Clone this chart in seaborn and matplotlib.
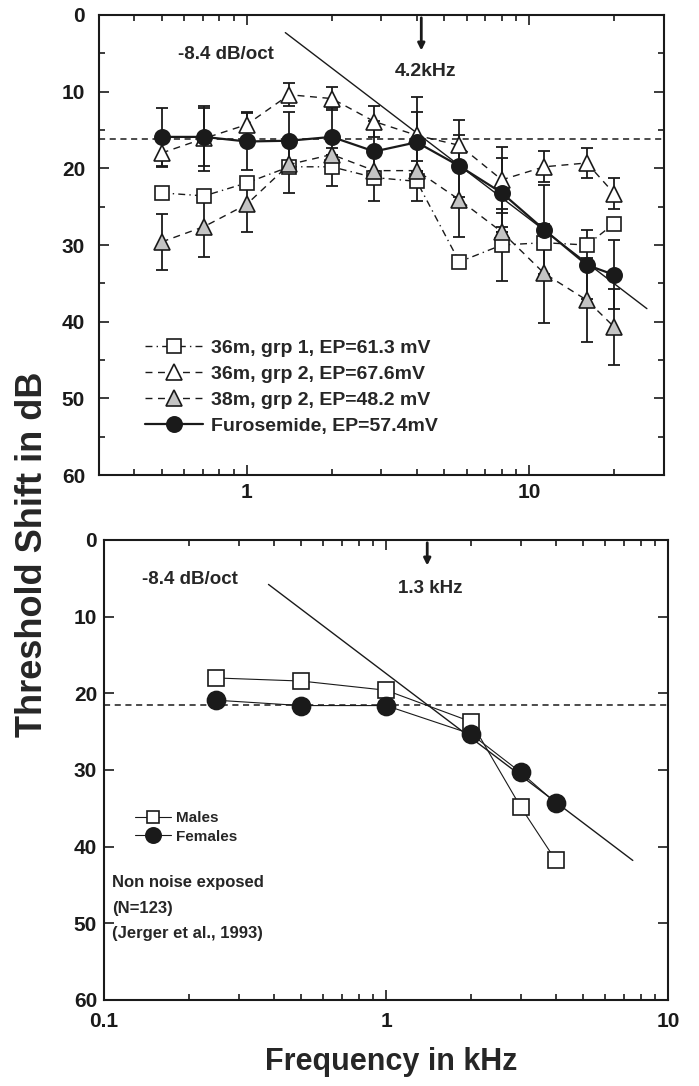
import matplotlib
matplotlib.use("Agg")
import matplotlib.pyplot as plt
from matplotlib.lines import Line2D
from matplotlib.ticker import LogLocator, MultipleLocator, NullFormatter, FixedLocator, FixedFormatter
import seaborn as sns

# ---- top panel data (threshold shift, dB) ----
freq_top = [0.5, 0.707, 1, 1.414, 2, 2.83, 4, 5.66, 8, 11.3, 16, 20]
grp1_36m = [23.2, 23.6, 21.9, 19.8, 19.8, 21.2, 21.7, 32.2, 30.0, 29.7, 30.0, 27.2]
grp1_36m_err = [0, 0, 0, 3.4, 2.5, 3.0, 2.6, 0, 4.7, 0, 0, 0]
grp2_36m = [18.0, 16.1, 14.3, 10.4, 10.9, 13.9, 15.7, 17.0, 21.5, 19.8, 19.3, 23.3]
grp2_36m_err = [1.8, 4.2, 1.7, 1.5, 1.5, 2.0, 5.0, 3.3, 4.3, 2.0, 2.0, 2.0]
grp2_38m = [29.6, 27.6, 24.7, 19.5, 18.2, 20.3, 20.3, 24.1, 28.3, 33.7, 37.2, 40.7]
grp2_38m_err = [3.6, 3.9, 3.6, 0, 0, 0, 0, 4.8, 0, 6.5, 5.5, 5.0]
furosemide = [15.9, 15.9, 16.5, 16.4, 15.9, 17.8, 16.6, 19.7, 23.2, 28.0, 32.6, 33.9]
furosemide_err = [3.8, 3.8, 3.7, 3.8, 3.8, 4.0, 4.0, 4.0, 4.5, 5.8, 4.5, 4.5]
top_ref_level = 16.2
top_slope_f = [1.37, 26.1]
top_slope_db = [2.3, 38.3]
top_labels = ["36m, grp 1, EP=61.3 mV", "36m, grp 2, EP=67.6mV",
              "38m, grp 2, EP=48.2 mV", "Furosemide, EP=57.4mV"]

# ---- bottom panel data ----
freq_bot = [0.25, 0.5, 1, 2, 3, 4]
males = [18.0, 18.4, 19.6, 23.7, 34.8, 41.8]
females = [20.9, 21.6, 21.6, 25.3, 30.3, 34.3]
bot_ref_level = 21.5
bot_slope_f = [0.383, 7.5]
bot_slope_db = [5.8, 41.8]

sns.set_theme(style="ticks")
plt.rcParams["font.family"] = ["Liberation Sans", "DejaVu Sans"]
plt.rcParams["font.weight"] = "bold"

fig = plt.figure(figsize=(6.99, 10.86), dpi=100)
ax1 = fig.add_axes([0.1416, 0.5626, 0.8083, 0.4236])
ax2 = fig.add_axes([0.1488, 0.0792, 0.8069, 0.4236])

gray = "#c4c4c4"
ms_kw = dict(markeredgecolor="k", markeredgewidth=1.2)

# top panel
series = [
    (grp1_36m, grp1_36m_err, "s", "white", (0, (5, 3, 1, 3)), 1.0, 10),
    (grp2_36m, grp2_36m_err, "^", "white", (0, (5, 4)), 1.0, 12),
    (grp2_38m, grp2_38m_err, "^", gray, (0, (5, 4)), 1.0, 12),
    (furosemide, furosemide_err, "o", "k", "-", 1.6, 11),
]
handles = []
for vals, err, mk, fc, ls, lw, ms in series:
    ax1.errorbar(freq_top, vals, yerr=err, fmt="none", ecolor="k",
                 elinewidth=1.3, capsize=4, capthick=1.3, zorder=2)
    sns.lineplot(x=freq_top, y=vals, ax=ax1, color="k", linestyle=ls, lw=lw,
                 marker=mk, markersize=ms, markerfacecolor=fc, zorder=3, **ms_kw)
    handles.append(Line2D([], [], color="k", linestyle=ls, lw=lw, marker=mk,
                          markersize=ms, markerfacecolor=fc, **ms_kw))

ax1.axhline(top_ref_level, color="k", lw=1.1, linestyle=(0, (4, 3)), zorder=1)
ax1.plot(top_slope_f, top_slope_db, color="k", lw=1.0, zorder=1)
ax1.annotate("", xy=(4.15, 5.0), xytext=(4.15, 0),
             arrowprops=dict(arrowstyle="-|>", color="k", lw=2.0, mutation_scale=10))
ax1.text(0.571, 5.2, "-8.4 dB/oct", fontsize=13.5, fontweight="bold", va="center")
ax1.text(3.35, 7.4, "4.2kHz", fontsize=14, fontweight="bold", va="center")
ax1.legend(handles, top_labels, loc="lower left", bbox_to_anchor=(0.05, 0.05),
           frameon=False, handlelength=3.0, handletextpad=0.4, labelspacing=0.42,
           prop=dict(size=14, weight="bold"))

# bottom panel
sns.lineplot(x=freq_bot, y=males, ax=ax2, color="k", lw=0.8, marker="s",
             markersize=11, markerfacecolor="white", zorder=3, **ms_kw)
sns.lineplot(x=freq_bot, y=females, ax=ax2, color="k", lw=0.8, marker="o",
             markersize=13, markerfacecolor="k", zorder=3, **ms_kw)
ax2.axhline(bot_ref_level, color="k", lw=1.1, linestyle=(0, (4, 3)), zorder=1)
ax2.plot(bot_slope_f, bot_slope_db, color="k", lw=1.0, zorder=1)
ax2.annotate("", xy=(1.4, 3.7), xytext=(1.4, 0),
             arrowprops=dict(arrowstyle="-|>", color="k", lw=2.0, mutation_scale=10))
ax2.text(0.136, 5.2, "-8.4 dB/oct", fontsize=13.5, fontweight="bold", va="center")
ax2.text(1.10, 6.3, "1.3 kHz", fontsize=13.5, fontweight="bold", va="center")
bh = [Line2D([], [], color="k", lw=0.8, marker="s", markersize=9, markerfacecolor="white", **ms_kw),
      Line2D([], [], color="k", lw=0.8, marker="o", markersize=11, markerfacecolor="k", **ms_kw)]
ax2.legend(bh, ["Males", "Females"], loc="lower left", bbox_to_anchor=(0.03, 0.31),
           frameon=False, handlelength=2.4, handletextpad=0.3, labelspacing=0.3,
           prop=dict(size=11, weight="bold"))
ax2.text(0.107, 44.7, "Non noise exposed", fontsize=12, fontweight="bold", va="center")
ax2.text(0.107, 48.1, "(N=123)", fontsize=12, fontweight="bold", va="center")
ax2.text(0.107, 51.3, "(Jerger et al., 1993)", fontsize=12, fontweight="bold", va="center")

for ax, xlim, ticks, labels, ylminor, ypad, xpad in [
        (ax1, (0.3, 30), [1, 10], ["1", "10"], True, 10, 6),
        (ax2, (0.1, 10), [0.1, 1, 10], ["0.1", "1", "10"], False, 5, 9)]:
    ax.set_xscale("log")
    ax.set_xlim(*xlim)
    ax.set_ylim(60, 0)
    ax.xaxis.set_major_locator(FixedLocator(ticks))
    ax.xaxis.set_major_formatter(FixedFormatter(labels))
    ax.xaxis.set_minor_locator(LogLocator(base=10, subs=range(2, 10)))
    ax.xaxis.set_minor_formatter(NullFormatter())
    ax.yaxis.set_major_locator(MultipleLocator(10))
    if ylminor:
        ax.yaxis.set_minor_locator(MultipleLocator(5))
    ax.tick_params(which="both", direction="in", top=True, right=True,
                   labelsize=15, width=1.2, colors="k")
    ax.tick_params(which="major", length=7)
    ax.tick_params(axis="x", which="major", pad=xpad)
    ax.tick_params(axis="y", which="major", pad=ypad)
    ax.tick_params(which="minor", length=4)
    for lab in ax.get_xticklabels() + ax.get_yticklabels():
        lab.set_fontweight("bold")
    for s in ax.spines.values():
        s.set_linewidth(1.5)
        s.set_color("k")
    ax.set_xlabel("")
    ax.set_ylabel("")

fig.text(0.046, 0.49, "Threshold Shift in dB", rotation=90, ha="center", va="center",
         fontsize=26, fontweight="bold", family=["Liberation Sans Narrow", "Liberation Sans"])
fig.text(0.56, 0.022, "Frequency in kHz", ha="center", va="center",
         fontsize=22, fontweight="bold")

fig.savefig("out.png", dpi=100)
